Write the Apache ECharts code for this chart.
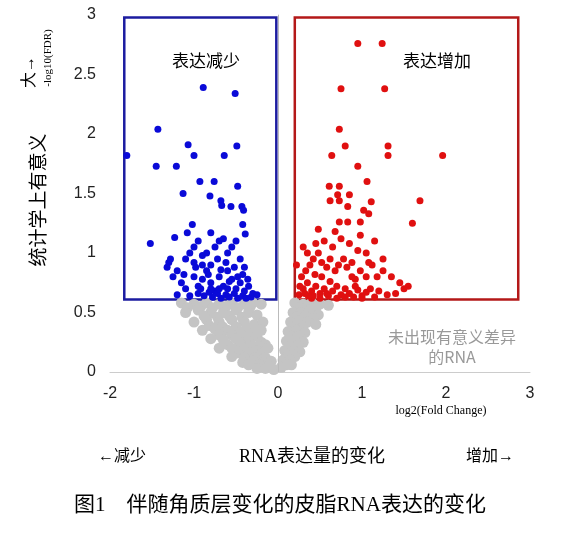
<!DOCTYPE html>
<html><head><meta charset="utf-8">
<script src="https://cdn.jsdelivr.net/npm/echarts@6/dist/echarts.min.js"></script>
<style>body{margin:0;background:#fff}#c{width:568px;height:538px}</style></head>
<body><div id="c"></div>
<script>
const blueSparse=[[-0.89,2.39],[-0.51,2.34],[-1.43,2.04],[-1.80,1.82],[-1.07,1.91],[-0.49,1.90],[-1.0,1.82],[-0.64,1.82],[-1.45,1.73],[-1.21,1.73],[-0.93,1.60],[-0.76,1.60],[-0.48,1.56],[-1.13,1.50],[-0.81,1.48],[-0.68,1.44],[-0.67,1.40],[-0.56,1.39],[-0.43,1.39],[-0.41,1.36],[-1.02,1.24],[-0.42,1.24],[-1.08,1.17],[-0.80,1.17],[-0.39,1.16],[-1.52,1.08],[-1.23,1.13]];
const blueDense=[[-1.3,0.92],[-1.2,0.85],[-1.25,0.8],[-1.1,0.95],[-1.05,1.0],[-1.0,1.05],[-0.95,1.1],[-0.9,0.98],[-0.85,1.0],[-0.8,0.9],[-0.75,1.05],[-0.7,1.1],[-0.65,1.12],[-0.6,1.0],[-0.55,1.05],[-0.5,1.1],[-0.45,0.95],[-0.4,0.88],[-1.15,0.75],[-1.1,0.7],[-1.0,0.8],[-0.95,0.72],[-0.9,0.78],[-0.85,0.85],[-0.8,0.75],[-0.75,0.68],[-0.7,0.8],[-0.65,0.72],[-0.6,0.85],[-0.55,0.78],[-0.5,0.7],[-0.45,0.75],[-0.4,0.68],[-0.35,0.72],[-0.3,0.66],[-0.25,0.65],[-1.2,0.65],[-1.05,0.64],[-0.95,0.66],[-0.88,0.64],[-0.82,0.67],[-0.78,0.63],[-0.72,0.66],[-0.68,0.62],[-0.62,0.65],[-0.58,0.63],[-0.52,0.66],[-0.48,0.62],[-0.42,0.64],[-0.38,0.62],[-0.32,0.63],[-0.9,0.9],[-1.0,0.92],[-0.72,0.95],[-0.62,0.92],[-0.52,0.88],[-1.28,0.95],[-1.32,0.88],[-0.98,0.88],[-0.83,0.82],[-0.68,0.86],[-0.58,0.76],[-0.42,0.82],[-1.12,0.82],[-0.92,0.7],[-0.8,0.7],[-0.7,0.7],[-0.6,0.7],[-0.48,0.8],[-0.36,0.78]];
const redSparse=[[0.95,2.76],[1.24,2.76],[0.75,2.38],[1.27,2.38],[0.73,2.04],[0.80,1.90],[1.31,1.90],[0.64,1.82],[1.31,1.82],[1.96,1.82],[0.95,1.73],[1.06,1.60],[0.61,1.56],[0.73,1.56],[0.71,1.49],[0.85,1.49],[0.62,1.44],[0.73,1.44],[1.69,1.44],[1.11,1.43],[0.83,1.39],[1.02,1.36],[1.08,1.33],[1.60,1.25],[0.73,1.26],[0.83,1.26],[0.98,1.26]];
const redDense=[[0.25,0.65],[0.3,0.7],[0.35,0.75],[0.4,0.68],[0.45,0.72],[0.5,0.66],[0.55,0.7],[0.6,0.64],[0.65,0.68],[0.7,0.72],[0.75,0.65],[0.8,0.7],[0.85,0.66],[0.9,0.63],[0.95,0.69],[1.0,0.64],[1.05,0.67],[1.1,0.7],[1.2,0.68],[1.3,0.65],[0.28,0.8],[0.33,0.85],[0.38,0.9],[0.42,0.95],[0.48,1.0],[0.52,0.92],[0.58,0.88],[0.62,0.95],[0.68,0.85],[0.72,0.9],[0.78,0.95],[0.82,0.88],[0.88,0.8],[0.92,0.78],[0.98,0.85],[1.05,0.8],[1.12,0.9],[1.18,0.8],[1.25,0.85],[1.35,0.8],[1.45,0.75],[1.5,0.7],[1.55,0.72],[0.22,0.9],[0.3,1.05],[0.35,1.0],[0.45,1.08],[0.55,1.1],[0.65,1.05],[0.75,1.12],[0.85,1.08],[0.95,1.02],[1.05,1.0],[1.15,1.1],[1.25,0.95],[0.4,0.62],[0.5,0.62],[0.7,0.62],[0.8,0.63],[1.0,0.62],[0.32,0.66],[0.42,0.64],[0.58,0.66],[0.62,0.76],[0.52,0.8],[0.44,0.82],[0.36,0.64],[0.26,0.72],[0.88,0.92],[1.08,0.92],[0.98,1.15],[0.68,1.18],[0.48,1.2],[0.92,0.72],[1.4,0.66],[1.15,0.63]];
const gray=[[-1.15,0.58],[-1.0,0.57],[-0.85,0.58],[-0.7,0.57],[-0.55,0.58],[-0.4,0.57],[-0.3,0.58],[-0.2,0.57],[-1.08,0.54],[-0.92,0.55],[-0.78,0.54],[-0.62,0.55],[-0.48,0.54],[-0.33,0.55],[-1.1,0.5],[-0.95,0.52],[-0.8,0.5],[-0.65,0.5],[-0.5,0.52],[-0.35,0.5],[-0.25,0.48],[-0.88,0.47],[-0.72,0.46],[-0.58,0.47],[-0.43,0.46],[-1.0,0.42],[-0.85,0.44],[-0.7,0.42],[-0.55,0.44],[-0.4,0.42],[-0.28,0.4],[-0.18,0.42],[-0.82,0.39],[-0.66,0.38],[-0.5,0.38],[-0.36,0.37],[-0.9,0.35],[-0.75,0.36],[-0.6,0.35],[-0.45,0.34],[-0.3,0.33],[-0.2,0.35],[-0.7,0.31],[-0.55,0.31],[-0.4,0.3],[-0.25,0.3],[-0.8,0.28],[-0.65,0.27],[-0.5,0.28],[-0.35,0.26],[-0.2,0.25],[-0.6,0.23],[-0.45,0.24],[-0.3,0.22],[-0.15,0.23],[-0.7,0.2],[-0.55,0.2],[-0.4,0.2],[-0.25,0.18],[-0.12,0.2],[-0.48,0.16],[-0.34,0.16],[-0.2,0.15],[-0.55,0.13],[-0.4,0.12],[-0.28,0.12],[-0.15,0.12],[-0.42,0.08],[-0.3,0.09],[-0.18,0.08],[-0.08,0.09],[-0.35,0.06],[-0.22,0.06],[-0.1,0.05],[-0.25,0.03],[-0.15,0.03],[-0.05,0.02],[0.2,0.58],[0.3,0.57],[0.4,0.58],[0.5,0.57],[0.6,0.56],[0.25,0.54],[0.35,0.55],[0.45,0.54],[0.18,0.5],[0.28,0.5],[0.38,0.52],[0.48,0.48],[0.22,0.46],[0.32,0.47],[0.42,0.45],[0.15,0.42],[0.25,0.43],[0.35,0.42],[0.45,0.4],[0.2,0.38],[0.3,0.38],[0.12,0.34],[0.22,0.35],[0.32,0.33],[0.16,0.3],[0.26,0.3],[0.1,0.26],[0.2,0.27],[0.3,0.25],[0.14,0.22],[0.24,0.22],[0.08,0.18],[0.18,0.18],[0.26,0.17],[0.12,0.14],[0.2,0.13],[0.06,0.1],[0.14,0.1],[0.1,0.06],[0.04,0.04],[0.16,0.06]];
const blueBox=[[-1.83,2.98],[-0.02,0.61]];
const redBox=[[0.2,2.98],[2.86,0.61]];

const chart=echarts.init(document.getElementById('c'));
const serif='"Liberation Serif","Noto Sans CJK SC",serif';
const txt=(o)=>Object.assign({type:'text',style:Object.assign({fill:'#222',font:'15px '+serif},o.style||{})},o);
chart.setOption({
 animation:false,
 grid:{left:110,right:38,top:15,bottom:166},
 xAxis:{type:'value',min:-2,max:3,interval:1,splitLine:{show:false},axisTick:{show:false},
   axisLine:{onZero:false,lineStyle:{color:'#ccc'}},axisLabel:{color:'#222',fontSize:16,fontFamily:'Liberation Sans',margin:14}},
 yAxis:{type:'value',min:0,max:3,interval:0.5,splitLine:{show:false},axisTick:{show:false},
   axisLine:{show:true,lineStyle:{color:'#ccc'}},axisLabel:{color:'#222',fontSize:16,fontFamily:'Liberation Sans',margin:14,formatter:v=>String(v)}},
 series:[
  {type:'scatter',data:gray,symbolSize:11,itemStyle:{color:'#c4c4c4',opacity:1},z:1,
   markLine:{silent:true,symbol:'none',label:{show:false},lineStyle:{color:'#bbb',type:'solid',width:1},data:[{xAxis:0}]}},
  {type:'scatter',data:blueDense.concat(blueSparse),symbolSize:7,itemStyle:{color:'#0a0ad8',opacity:1},z:3,
   markArea:{silent:true,itemStyle:{color:'rgba(0,0,0,0)',borderColor:'#1c1ca0',borderWidth:2.5},
     data:[[{coord:blueBox[0]},{coord:blueBox[1]}]]}},
  {type:'scatter',data:redDense.concat(redSparse),symbolSize:7,itemStyle:{color:'#e01010',opacity:1},z:3,
   markArea:{silent:true,itemStyle:{color:'rgba(0,0,0,0)',borderColor:'#b41818',borderWidth:2.5},
     data:[[{coord:redBox[0]},{coord:redBox[1]}]]}}
 ],
 graphic:[
  txt({x:206,y:63,style:{text:'表达减少',font:'17px '+serif,textAlign:'center',textVerticalAlign:'middle'}}),
  txt({x:437,y:63,style:{text:'表达增加',font:'17px '+serif,textAlign:'center',textVerticalAlign:'middle'}}),
  txt({x:452,y:347,style:{text:'未出现有意义差异\n的RNA',fill:'#999',font:'16px "Noto Sans CJK SC"',textAlign:'center',textVerticalAlign:'middle',lineHeight:20}}),
  txt({x:40,y:200,rotation:Math.PI/2,style:{text:'统计学上有意义',font:'19px '+serif,textAlign:'center',textVerticalAlign:'middle'}}),
  txt({x:30,y:72,rotation:Math.PI/2,style:{text:'大→',font:'16px '+serif,textAlign:'center',textVerticalAlign:'middle'}}),
  txt({x:48,y:58,rotation:Math.PI/2,style:{text:'-log10(FDR)',font:'11px '+serif,textAlign:'center',textVerticalAlign:'middle'}}),
  txt({x:441,y:411,style:{text:'log2(Fold Change)',font:'12px '+serif,textAlign:'center',textVerticalAlign:'middle'}}),
  txt({x:122,y:457,style:{text:'←减少',font:'16px '+serif,textAlign:'center',textVerticalAlign:'middle'}}),
  txt({x:312,y:457,style:{text:'RNA表达量的变化',font:'18px '+serif,textAlign:'center',textVerticalAlign:'middle'}}),
  txt({x:490,y:457,style:{text:'增加→',font:'16px '+serif,textAlign:'center',textVerticalAlign:'middle'}}),
  txt({x:280,y:505,style:{text:'图1　伴随角质层变化的皮脂RNA表达的变化',font:'21px '+serif,textAlign:'center',textVerticalAlign:'middle'}})
 ]
});
</script></body></html>
